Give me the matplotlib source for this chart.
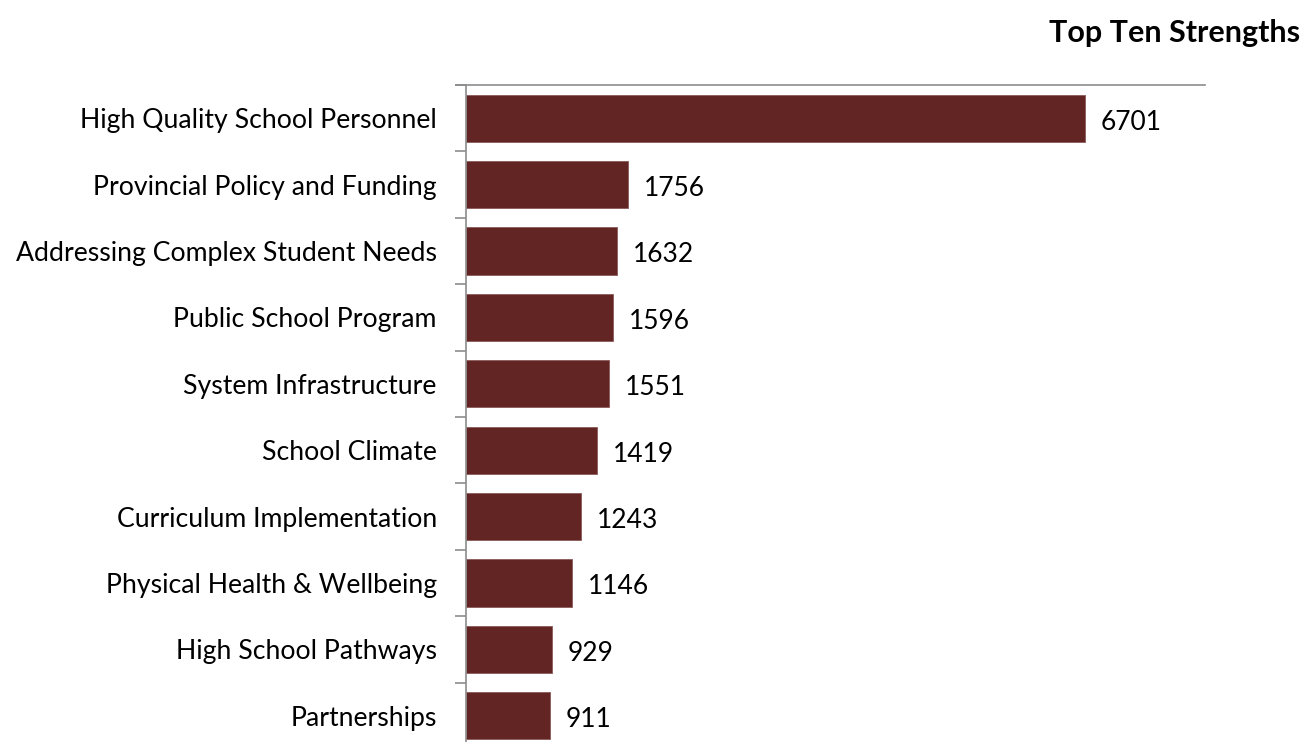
import matplotlib.pyplot as plt

categories = ['High Quality School Personnel', 'Provincial Policy and Funding',
              'Addressing Complex Student Needs', 'Public School Program',
              'System Infrastructure', 'School Climate', 'Curriculum Implementation',
              'Physical Health & Wellbeing', 'High School Pathways', 'Partnerships']
counts = [6701, 1756, 1632, 1596, 1551, 1419, 1243, 1146, 929, 911]

plt.rcParams['font.family'] = ['Lato', 'DejaVu Sans']

fig = plt.figure(figsize=(13.06, 7.42), dpi=100)
# axes runs a bit past the bottom edge, as in the original
ax = fig.add_axes([466 / 1306, -7 / 742, (1205 - 466) / 1306, (749 - 85) / 742])

n = len(categories)
ypos = list(range(n))
ax.barh(ypos, counts, height=0.71, color='#632523', edgecolor='#8a5a58', linewidth=0.6)

for y, v in zip(ypos, counts):
    ax.text(v + 170, y + 0.06, str(v), va='center', ha='left', fontsize=19, color='black')

ax.set_xlim(0, 8000)
ax.set_ylim(n - 0.5, -0.5)
ax.set_xticks([])

# labels at bar centres, tick marks at category boundaries
ax.set_yticks(ypos)
ax.set_yticklabels(categories, fontsize=19.2)
ax.tick_params(axis='y', which='major', length=0, pad=21)
ax.set_yticks([i - 0.5 for i in range(n + 1)], minor=True)
ax.tick_params(axis='y', which='minor', length=8, color='#8c8c8c', width=1.2)

for side in ['right', 'bottom']:
    ax.spines[side].set_visible(False)
ax.spines['left'].set_color('#8c8c8c')
ax.spines['left'].set_linewidth(1.2)
ax.spines['top'].set_color('#8c8c8c')
ax.spines['top'].set_linewidth(1.2)
ax.spines['top'].set_bounds(-0.01 * 8000 * 1.4, 8000)

fig.text(1300 / 1306, 1 - 33 / 742, 'Top Ten Strengths', ha='right', va='center',
         fontsize=22, fontweight='bold')

fig.savefig('out.png', dpi=100)
